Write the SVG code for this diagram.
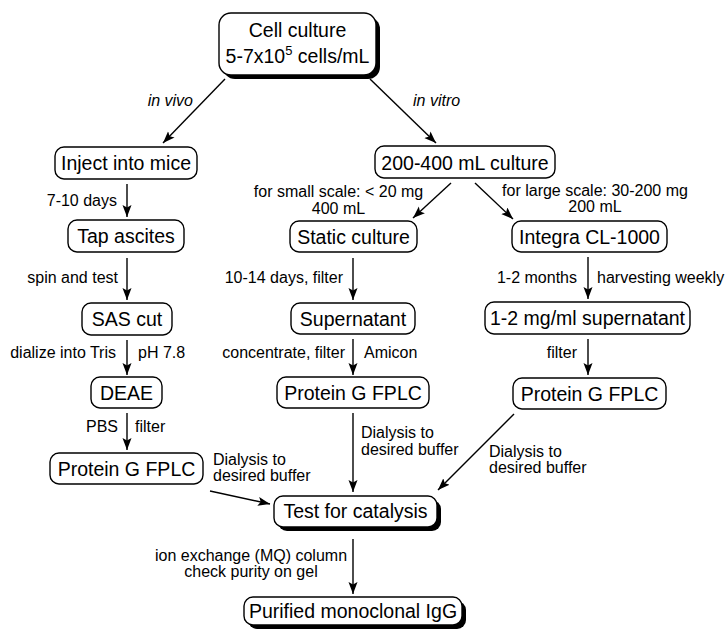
<svg xmlns="http://www.w3.org/2000/svg" width="726" height="629" viewBox="0 0 726 629">
<style>
.box{fill:#fff;stroke:#000;stroke-width:1.4}
.sh{fill:#000}
.nt{font-family:"Liberation Sans",Arial,sans-serif;font-size:19.5px;fill:#000;text-anchor:middle}
.lb{font-family:"Liberation Sans",Arial,sans-serif;font-size:16px;fill:#000}
.it{font-style:italic}
.mid{text-anchor:middle}
.end{text-anchor:end}
.ar{stroke:#000;stroke-width:1.4;fill:none;marker-end:url(#ah)}
</style>
<defs>
<marker id="ah" markerUnits="userSpaceOnUse" markerWidth="13" markerHeight="10" refX="12" refY="4.5" orient="auto">
<path d="M0,0 L12,4.5 L0,9 L2.5,4.5 z" fill="#000"/>
</marker>
</defs>
<rect width="726" height="629" fill="#fff"/>
<g id="connectors">
<line class="ar" x1="225" y1="79" x2="163" y2="143"/>
<line class="ar" x1="370" y1="79" x2="436" y2="143"/>
<line class="ar" x1="127" y1="184" x2="127" y2="217"/>
<line class="ar" x1="127" y1="258" x2="127" y2="300"/>
<line class="ar" x1="127" y1="340" x2="127" y2="375"/>
<line class="ar" x1="127" y1="413" x2="127" y2="450"/>
<line class="ar" x1="451" y1="183" x2="413" y2="218"/>
<line class="ar" x1="475" y1="183" x2="513" y2="219"/>
<line class="ar" x1="353" y1="258" x2="353" y2="300"/>
<line class="ar" x1="353" y1="339" x2="353" y2="375"/>
<line class="ar" x1="588" y1="257" x2="588" y2="299"/>
<line class="ar" x1="588" y1="339" x2="588" y2="375"/>
<line class="ar" x1="353" y1="413" x2="353" y2="492"/>
<line class="ar" x1="514" y1="414" x2="438" y2="490"/>
<line class="ar" x1="210" y1="491" x2="270" y2="504"/>
<line class="ar" x1="353" y1="539" x2="353" y2="594"/>
</g>
<g id="labels">
<text class="lb it end" x="193" y="106">in vivo</text>
<text class="lb it" x="413" y="106">in vitro</text>
<text class="lb end" x="117" y="206">7-10 days</text>
<text class="lb end" x="118" y="283">spin and test</text>
<text class="lb end" x="116" y="358">dialize into Tris</text>
<text class="lb" x="138" y="358">pH 7.8</text>
<text class="lb end" x="118" y="432">PBS</text>
<text class="lb" x="135" y="432">filter</text>
<text class="lb" x="213" y="465">Dialysis to</text>
<text class="lb" x="213" y="481">desired buffer</text>
<text class="lb mid" x="338.5" y="197">for small scale: &lt; 20 mg</text>
<text class="lb mid" x="338.5" y="213.5">400 mL</text>
<text class="lb mid" x="595" y="195.5">for large scale: 30-200 mg</text>
<text class="lb mid" x="595" y="212">200 mL</text>
<text class="lb end" x="343" y="283">10-14 days, filter</text>
<text class="lb end" x="345" y="358">concentrate, filter</text>
<text class="lb" x="364" y="358">Amicon</text>
<text class="lb end" x="577" y="283">1-2 months</text>
<text class="lb" x="597" y="283">harvesting weekly</text>
<text class="lb end" x="577" y="358">filter</text>
<text class="lb" x="361" y="438">Dialysis to</text>
<text class="lb" x="361" y="455">desired buffer</text>
<text class="lb" x="489" y="457">Dialysis to</text>
<text class="lb" x="489" y="473">desired buffer</text>
<text class="lb mid" x="251" y="561">ion exchange (MQ) column</text>
<text class="lb mid" x="251" y="577">check purity on gel</text>
</g>
<g id="n-cell">
<rect class="sh" x="223" y="17" width="157" height="62" rx="12"/>
<rect class="box" x="219" y="13" width="157" height="62" rx="12"/>
<text class="nt" x="297.5" y="37">Cell culture</text>
<text class="nt" x="297.5" y="63">5-7x10<tspan dy="-8" font-size="13">5</tspan><tspan dy="8"> cells/mL</tspan></text>
</g>
<g id="n-inject">
<rect class="box" x="55" y="147" width="142" height="32" rx="9"/>
<text class="nt" x="126" y="170">Inject into mice</text>
</g>
<g id="n-tap">
<rect class="box" x="68" y="220" width="116" height="32" rx="9"/>
<text class="nt" x="126" y="243">Tap ascites</text>
</g>
<g id="n-sas">
<rect class="box" x="82" y="303" width="90" height="32" rx="9"/>
<text class="nt" x="127" y="326">SAS cut</text>
</g>
<g id="n-deae">
<rect class="box" x="91" y="377" width="71" height="31" rx="9"/>
<text class="nt" x="126.5" y="400">DEAE</text>
</g>
<g id="n-pgl">
<rect class="box" x="50" y="453" width="153" height="31" rx="9"/>
<text class="nt" x="126.5" y="475.5">Protein G FPLC</text>
</g>
<g id="n-200">
<rect class="box" x="375" y="146" width="180" height="32" rx="9"/>
<text class="nt" x="465" y="170">200-400 mL culture</text>
</g>
<g id="n-static">
<rect class="box" x="290" y="221" width="127" height="31" rx="9"/>
<text class="nt" x="353.5" y="244">Static culture</text>
</g>
<g id="n-integra">
<rect class="box" x="512" y="221" width="155" height="31" rx="9"/>
<text class="nt" x="589.5" y="244">Integra CL-1000</text>
</g>
<g id="n-super">
<rect class="box" x="291" y="303" width="124" height="31" rx="9"/>
<text class="nt" x="353" y="326">Supernatant</text>
</g>
<g id="n-mgml">
<rect class="box" x="485" y="302" width="205" height="32" rx="9"/>
<text class="nt" x="587.5" y="325">1-2 mg/ml supernatant</text>
</g>
<g id="n-pgm">
<rect class="box" x="277" y="377" width="152" height="31" rx="9"/>
<text class="nt" x="353" y="400">Protein G FPLC</text>
</g>
<g id="n-pgr">
<rect class="box" x="513" y="378" width="153" height="31" rx="9"/>
<text class="nt" x="589.5" y="401">Protein G FPLC</text>
</g>
<g id="n-test">
<rect class="sh" x="278" y="500" width="163" height="31" rx="9"/>
<rect class="box" x="274" y="496" width="163" height="31" rx="9"/>
<text class="nt" x="355.5" y="518">Test for catalysis</text>
</g>
<g id="n-purified">
<rect class="sh" x="248" y="601" width="218" height="28" rx="9"/>
<rect class="box" x="244" y="597" width="218" height="28" rx="9"/>
<text class="nt" x="353" y="618">Purified monoclonal IgG</text>
</g>
</svg>
